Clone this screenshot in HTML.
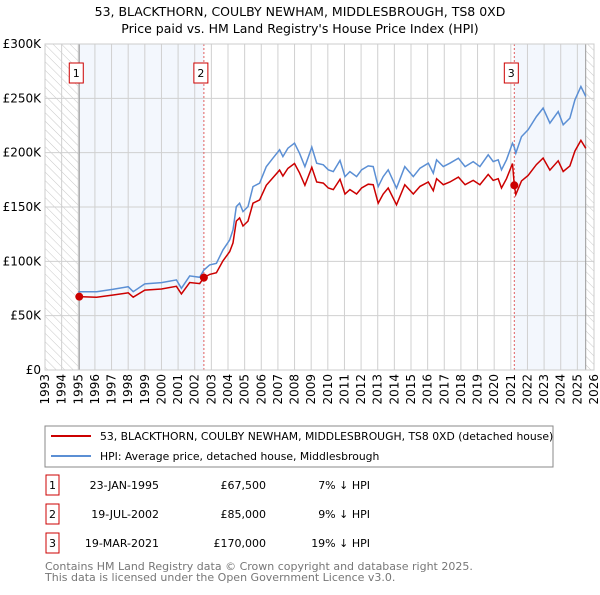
<!DOCTYPE html>
<html><head><meta charset="utf-8"><style>
body{margin:0;background:#fff;font-family:"Liberation Sans","DejaVu Sans",sans-serif;}
svg text{font-family:"DejaVu Sans","Liberation Sans",sans-serif;}
</style></head><body>
<svg id="chart" width="600" height="590" viewBox="0 0 600 590" xmlns="http://www.w3.org/2000/svg">
<defs><pattern id="hatch" width="6" height="6" patternUnits="userSpaceOnUse" patternTransform="rotate(-45)"><line x1="0" y1="0" x2="0" y2="6" stroke="#c8c8c8" stroke-width="1"/></pattern></defs>
<text x="300" y="16" text-anchor="middle" font-size="12.5">53, BLACKTHORN, COULBY NEWHAM, MIDDLESBROUGH, TS8 0XD</text>
<text x="300" y="33" text-anchor="middle" font-size="12.5">Price paid vs. HM Land Registry's House Price Index (HPI)</text>
<g id="plot"></g>
<rect x="45" y="426" width="508" height="41" fill="#fff" stroke="#888"/>
<line x1="51" y1="436" x2="91" y2="436" stroke="#cc0000" stroke-width="2"/>
<text x="100" y="440" font-size="10.8">53, BLACKTHORN, COULBY NEWHAM, MIDDLESBROUGH, TS8 0XD (detached house)</text>
<line x1="51" y1="456" x2="91" y2="456" stroke="#5b8fd4" stroke-width="2"/>
<text x="100" y="460" font-size="10.8">HPI: Average price, detached house, Middlesbrough</text>
<g font-size="11">
<rect x="46" y="475" width="13" height="20" fill="#fff" stroke="#cc0000"/><text x="52.5" y="489" text-anchor="middle">1</text>
<text x="159" y="489" text-anchor="end">23-JAN-1995</text><text x="266" y="489" text-anchor="end">£67,500</text><text x="370" y="489" text-anchor="end">7% ↓ HPI</text>
<rect x="46" y="504" width="13" height="20" fill="#fff" stroke="#cc0000"/><text x="52.5" y="518" text-anchor="middle">2</text>
<text x="159" y="518" text-anchor="end">19-JUL-2002</text><text x="266" y="518" text-anchor="end">£85,000</text><text x="370" y="518" text-anchor="end">9% ↓ HPI</text>
<rect x="46" y="533" width="13" height="20" fill="#fff" stroke="#cc0000"/><text x="52.5" y="547" text-anchor="middle">3</text>
<text x="159" y="547" text-anchor="end">19-MAR-2021</text><text x="266" y="547" text-anchor="end">£170,000</text><text x="370" y="547" text-anchor="end">19% ↓ HPI</text>
</g>
<text x="45" y="570" font-size="11" fill="#777">Contains HM Land Registry data © Crown copyright and database right 2025.</text>
<text x="45" y="581" font-size="11" fill="#777">This data is licensed under the Open Government Licence v3.0.</text>
</svg>
<script>
const years=[1995.0,1996.1,1997.1,1998.0,1998.3,1999.0,2000.0,2000.9,2001.2,2001.7,2002.3,2002.55,2002.9,2003.3,2003.7,2004.1,2004.3,2004.5,2004.7,2004.9,2005.2,2005.5,2005.9,2006.3,2006.7,2007.1,2007.3,2007.6,2008.0,2008.3,2008.62,2009.04,2009.33,2009.73,2010.03,2010.33,2010.73,2011.03,2011.33,2011.73,2012.03,2012.43,2012.73,2013.03,2013.33,2013.63,2014.13,2014.63,2015.14,2015.54,2016.04,2016.34,2016.54,2016.94,2017.34,2017.85,2018.25,2018.74,2019.14,2019.64,2019.94,2020.24,2020.44,2020.74,2021.1,2021.21,2021.3,2021.64,2022.04,2022.54,2022.94,2023.35,2023.85,2024.15,2024.55,2024.85,2025.21,2025.51];
const hpiValues=[72.1,72.1,74.3,76.7,72.1,79.2,80.4,82.9,75.2,86.6,85.3,92,96.7,98.2,110.5,119.7,128.9,150.4,153.5,145.8,150.4,168.8,171.9,187.2,194.9,202.6,196.4,204.1,208.7,199.5,187.2,205,190.3,188.8,184.2,182.6,192.8,178,182.6,178,184.2,187.8,187.2,168.8,178,184.2,167.3,187.2,178,185.7,190.3,181.1,193.4,187.2,190.3,194.9,187.2,191.8,187.2,198,191.8,193.4,184.2,193.4,208.7,205,199.5,214.8,221,233.2,241,227.2,237.8,225.6,231.8,248.6,260.9,251.7];
const priceValues=[67.5,67,69,71,67,73.5,74.5,77,70,80.5,79.5,85,88,89.5,100.5,109,117,137,140,132.5,137,153.5,156.5,170,177,184,178.5,185.5,190,181.5,170,186.5,173,172,167.5,166,175.5,162,166,162,167.5,171,170.5,153.5,162,167.5,152,170.5,162,169,173,165,176,170.5,173,177.5,170.5,174.5,170.5,180,174.5,176,167.5,176,190,170,161.5,174,179,189,195,184,192.5,182.7,187.8,201.4,211.3,204];
const saleYears=[1995.06,2002.55,2021.21];
const saleValues=[67.5,85,170];
const saleLabels=["1","2","3"];
const yTicks=[0,50,100,150,200,250,300];
const yTickLabels=["£0","£50K","£100K","£150K","£200K","£250K","£300K"];
const xTicks=[];for(let y=1993;y<=2026;y++)xTicks.push(y);

const L=45,R=594,T=44,B=370,X0=1993,X1=2026,YMAX=300;
const xs=v=>L+(v-X0)/(X1-X0)*(R-L);
const ys=v=>B-v/YMAX*(B-T);
const NS="http://www.w3.org/2000/svg";
const g=document.getElementById('plot');
function mk(t,a,p){const e=document.createElementNS(NS,t);for(const k in a)e.setAttribute(k,a[k]);(p||g).appendChild(e);return e;}

let e;
e=mk('rect',{x:L,y:T,width:R-L,height:B-T,fill:'#fff'});
e=mk('rect',{x:L,y:T,width:xs(saleYears[0])-L,height:B-T,fill:'url(#hatch)'});


e=mk('rect',{x:xs(2025.5),y:T,width:R-xs(2025.5),height:B-T,fill:'url(#hatch)'});


e=mk('rect',{x:xs(saleYears[0]),y:T,width:xs(saleYears[1])-xs(saleYears[0]),height:B-T,fill:'#eef3fc',opacity:0.7});


e=mk('rect',{x:xs(saleYears[2]),y:T,width:xs(2025.5)-xs(saleYears[2]),height:B-T,fill:'#eef3fc',opacity:0.7});



xTicks.forEach(t=>{
  e=mk('line',{x1:xs(t),x2:xs(t),y1:T,y2:B,stroke:'#d0d0d0','stroke-width':1});
  
  
  e=mk('text',{x:0,y:0,'font-size':12,'text-anchor':'end',transform:`translate(${xs(t)+4},${B+4}) rotate(-90)`});
  e.textContent=t;
  
  
});
yTicks.forEach((t,i)=>{
  e=mk('line',{x1:L,x2:R,y1:ys(t),y2:ys(t),stroke:'#d0d0d0','stroke-width':1});
  
  
  e=mk('text',{x:L-4,y:ys(t)+4,'font-size':12,'text-anchor':'end'});
  e.textContent=yTickLabels[i];
  
  
});
e=mk('line',{x1:xs(saleYears[0]),x2:xs(saleYears[0]),y1:T,y2:B,stroke:'#999','stroke-width':1});


e=mk('line',{x1:xs(2025.5),x2:xs(2025.5),y1:T,y2:B,stroke:'#999','stroke-width':1});


[1,2].forEach(i=>{
  e=mk('line',{x1:xs(saleYears[i]),x2:xs(saleYears[i]),y1:T,y2:B,stroke:'#e06060','stroke-width':1,'stroke-dasharray':'2,2'});
  
  
});
e=mk('path',{d:years.map((y,i)=>(i?'L':'M')+xs(y).toFixed(1)+','+ys(hpiValues[i]).toFixed(1)).join(''),fill:'none',stroke:'#5b8fd4','stroke-width':1.5});


e=mk('path',{d:years.map((y,i)=>(i?'L':'M')+xs(y).toFixed(1)+','+ys(priceValues[i]).toFixed(1)).join(''),fill:'none',stroke:'#cc0000','stroke-width':1.5});


saleYears.forEach((y,i)=>{
  e=mk('circle',{cx:xs(y),cy:ys(saleValues[i]),r:4,fill:'#cc0000'});
  
  
  e=mk('rect',{x:xs(y)-10,y:T+19,width:14,height:20,fill:'#fff',stroke:'#cc0000'});
  
  
  e=mk('text',{x:xs(y)-3,y:T+33,'font-size':11,'text-anchor':'middle'});
  e.textContent=saleLabels[i];
  
  
});
e=mk('rect',{x:L,y:T,width:R-L,height:B-T,fill:'none',stroke:'#ccc'});
</script>
</body></html>
